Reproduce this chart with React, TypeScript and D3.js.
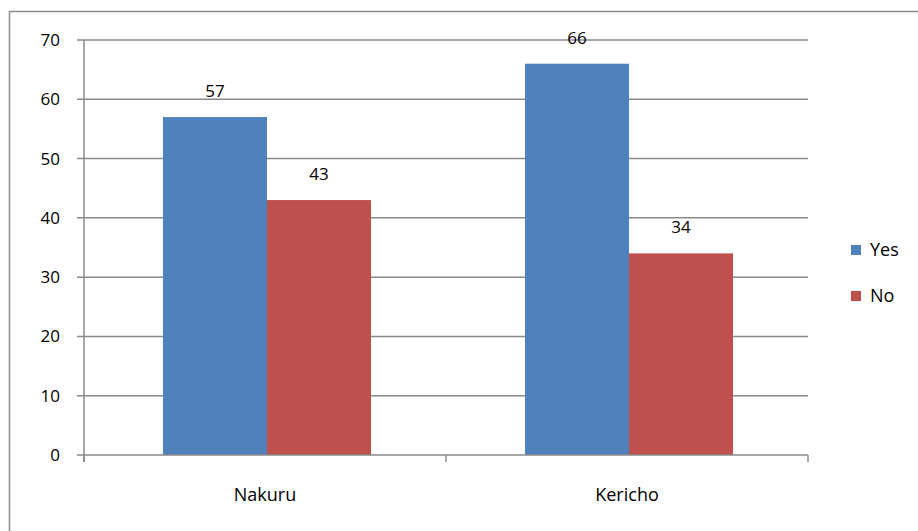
import React from "react"
import * as d3 from "d3"

const categories = ["Nakuru", "Kericho"]
const seriesNames = ["Yes", "No"]
const yesValues = [57, 66]
const noValues = [43, 34]
const yTicks = [0, 10, 20, 30, 40, 50, 60, 70]

const colors = ["#4F81BD", "#C0504D"]
const font = "'Open Sans', sans-serif"

const width = 918
const height = 531
const plot = { left: 84, right: 808, top: 40, bottom: 455 }

export default function App() {
  const series = [yesValues, noValues]

  const x = d3
    .scaleBand()
    .domain(categories)
    .range([plot.left, plot.right])
    .paddingInner(0)
    .paddingOuter(0)

  // bars sit a touch right of the band centre in the original
  const inner = d3
    .scaleBand()
    .domain(seriesNames)
    .range([2, x.bandwidth() + 2])
    .paddingOuter(0.74)
    .paddingInner(0)

  const y = d3.scaleLinear().domain([0, 70]).range([plot.bottom, plot.top])

  const boundaries = [plot.left, ...categories.map(c => (x(c) as number) + x.bandwidth())]

  return (
    <svg
      width={width}
      height={height}
      style={{ position: "absolute", left: 0, top: 0, background: "white" }}
      fontFamily={font}
    >
      <rect x={9.5} y={11.5} width={width} height={height} fill="white" stroke="#8c8c8c" strokeWidth={1.5} />

      {yTicks.map(t => (
        <g key={t}>
          <line
            x1={plot.left - 7}
            x2={t === 0 ? plot.left : plot.right}
            y1={y(t)}
            y2={y(t)}
            stroke="#8a8a8a"
            strokeWidth={1.5}
          />
          <text x={plot.left - 24} y={y(t)} dy="0.35em" textAnchor="end" fontSize={17} fill="#000">
            {t}
          </text>
        </g>
      ))}

      {categories.map((c, ci) =>
        series.map((vals, si) => {
          const bx = (x(c) as number) + (inner(seriesNames[si]) as number)
          const v = vals[ci]
          return (
            <g key={c + si}>
              <rect x={bx} y={y(v)} width={inner.bandwidth()} height={y(0) - y(v)} fill={colors[si]} />
              <text
                x={bx + inner.bandwidth() / 2}
                y={y(v) - 20}
                textAnchor="middle"
                fontSize={17}
                fill="#000"
              >
                {v}
              </text>
            </g>
          )
        })
      )}

      <line x1={plot.left} x2={plot.left} y1={plot.top} y2={plot.bottom + 7} stroke="#8a8a8a" strokeWidth={1.5} />
      <line x1={plot.left} x2={plot.right} y1={plot.bottom} y2={plot.bottom} stroke="#8a8a8a" strokeWidth={1.5} />
      {boundaries.map((b, i) => (
        <line key={i} x1={b} x2={b} y1={plot.bottom} y2={plot.bottom + 7} stroke="#8a8a8a" strokeWidth={1.5} />
      ))}

      {categories.map(c => (
        <text
          key={c}
          x={(x(c) as number) + x.bandwidth() / 2}
          y={501}
          textAnchor="middle"
          fontSize={18}
          fill="#000"
        >
          {c}
        </text>
      ))}

      {seriesNames.map((s, i) => (
        <g key={s} transform={`translate(851, ${245 + i * 46})`}>
          <rect x={0} y={0} width={10} height={10} fill={colors[i]} />
          <text x={19} y={5} dy="0.35em" fontSize={18} fill="#000">
            {s}
          </text>
        </g>
      ))}
    </svg>
  )
}
